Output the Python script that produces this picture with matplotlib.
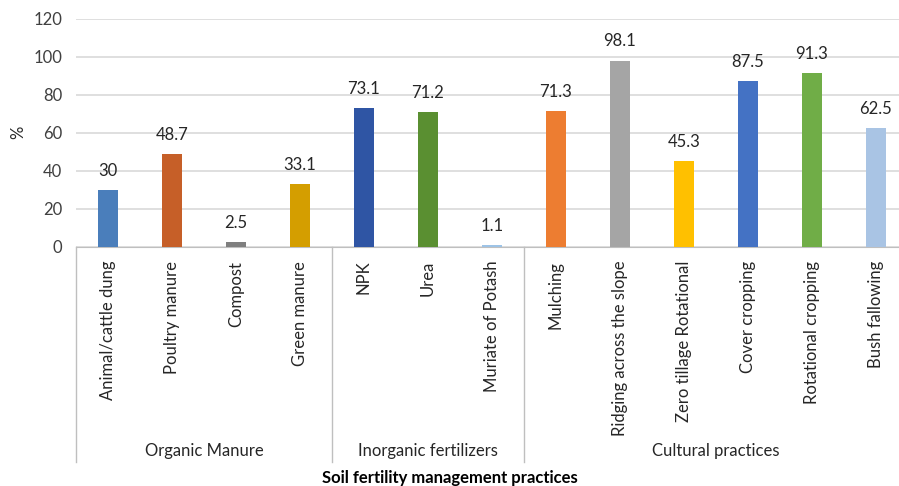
import numpy as np
import matplotlib.pyplot as plt
import matplotlib.transforms as mtransforms

plt.rcParams['font.family'] = ['Lato', 'DejaVu Sans']

practices = ["Animal/cattle dung", "Poultry manure", "Compost", "Green manure",
             "NPK", "Urea", "Muriate of Potash",
             "Mulching", "Ridging across the slope", "Zero tillage Rotational",
             "Cover cropping", "Rotational cropping", "Bush fallowing"]
percent = [30, 48.7, 2.5, 33.1, 73.1, 71.2, 1.1, 71.3, 98.1, 45.3, 87.5, 91.3, 62.5]
value_text = ["30", "48.7", "2.5", "33.1", "73.1", "71.2", "1.1",
              "71.3", "98.1", "45.3", "87.5", "91.3", "62.5"]
groups = ["Organic Manure", "Inorganic fertilizers", "Cultural practices"]
group_sizes = [4, 3, 6]
bar_colors = ["#4A7EBB", "#C65F28", "#7F7F7F", "#D49E00",
              "#2F55A4", "#5A8F31", "#9DC3E6",
              "#ED7D31", "#A5A5A5", "#FFC000", "#4472C4", "#70AD47", "#A9C4E4"]

fig = plt.figure(figsize=(8.99, 4.86), dpi=100)
ax = fig.add_axes([0.0845, 0.4918, 0.9155, 0.4692])

x = np.arange(len(practices))
bars = ax.bar(x, percent, width=0.31, color=bar_colors, zorder=3)
for b, t in zip(bars, value_text):
    ax.annotate(t, (b.get_x() + b.get_width() / 2, b.get_height()),
                xytext=(0, 8), textcoords="offset points",
                ha="center", va="bottom", fontsize=12, color="#262626")

ax.set_ylim(0, 120)
ax.set_yticks(np.arange(0, 121, 20))
ax.set_xlim(-0.5, 12.36)
ax.yaxis.grid(True, color="#D9D9D9", lw=1.2, zorder=0)
ax.set_axisbelow(True)
for s in ["top", "right", "left"]:
    ax.spines[s].set_visible(False)
ax.spines["bottom"].set_color("#BFBFBF")
ax.tick_params(axis="y", length=0, labelsize=12, labelcolor="#404040", pad=10)
ax.set_xticks(x)
ax.set_xticklabels(practices, rotation=90, va="top", ha="center",
                   fontsize=12, color="#262626")
ax.tick_params(axis="x", length=0, pad=10)
fig.text(18 / 899, 1 - 132 / 486, "%", rotation=90, ha="center", va="center",
         fontsize=12, color="#262626")

# group separators and group names under the tick labels
trans = mtransforms.blended_transform_factory(ax.transData, ax.transAxes)
edges = np.concatenate([[0], np.cumsum(group_sizes)]) - 0.5
for e in edges[:-1]:
    ax.plot([e, e], [0, -0.943], transform=trans, color="#BFBFBF",
            lw=1, clip_on=False)
for g, lo, hi in zip(groups, edges[:-1], edges[1:]):
    ax.text((lo + hi) / 2, -0.895, g, transform=trans, ha="center",
            va="center", fontsize=12, color="#262626")

fig.text(0.5, 1 - 478 / 486, "Soil fertility management practices",
         ha="center", va="center", fontsize=12, fontweight="bold", color="#000000")

fig.savefig("out.png", dpi=100)
